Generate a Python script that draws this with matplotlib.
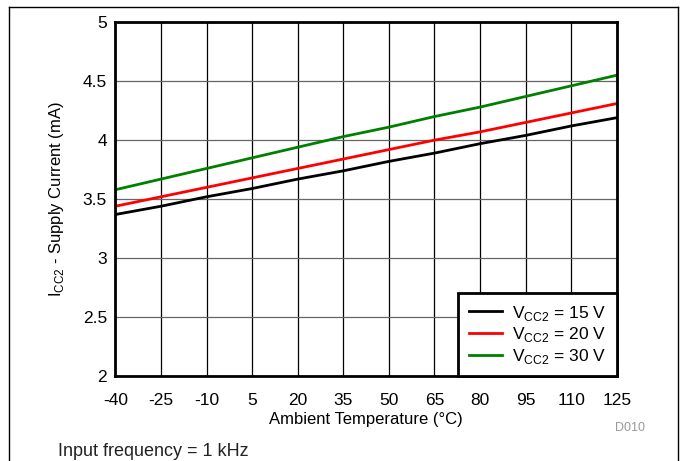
import matplotlib
matplotlib.use("Agg")
import matplotlib.pyplot as plt
from matplotlib.lines import Line2D

plt.rcParams['font.family'] = ['Liberation Sans', 'DejaVu Sans']
plt.rcParams['mathtext.fontset'] = 'custom'
plt.rcParams['mathtext.rm'] = 'Liberation Sans'

# data
temps = [-40, -25, -10, 5, 20, 35, 50, 65, 80, 95, 110, 125]
icc_15v = [3.37, 3.44, 3.52, 3.59, 3.67, 3.74, 3.82, 3.89, 3.97, 4.04, 4.12, 4.19]
icc_20v = [3.44, 3.52, 3.60, 3.68, 3.76, 3.84, 3.92, 4.00, 4.07, 4.15, 4.23, 4.31]
icc_30v = [3.58, 3.67, 3.76, 3.85, 3.94, 4.03, 4.11, 4.20, 4.28, 4.37, 4.46, 4.55]
yticks = [2, 2.5, 3, 3.5, 4, 4.5, 5]

fig = plt.figure(figsize=(6.83, 4.61), dpi=100)
ax = fig.add_axes([0.169, 0.184, 0.734, 0.768])

ax.plot(temps, icc_15v, color='black', lw=2, label=r'V$_{\mathrm{CC2}}$ = 15 V')
ax.plot(temps, icc_20v, color='#ff0000', lw=2, label=r'V$_{\mathrm{CC2}}$ = 20 V')
ax.plot(temps, icc_30v, color='#008000', lw=2, label=r'V$_{\mathrm{CC2}}$ = 30 V')

ax.set_xlim(-40, 125)
ax.set_ylim(2, 5)
ax.set_xticks(temps)
ax.set_yticks(yticks)
ax.set_xticklabels([str(t) for t in temps])
ax.set_yticklabels(['2', '2.5', '3', '3.5', '4', '4.5', '5'])
ax.tick_params(length=0, labelsize=12.5)
ax.tick_params(axis='x', pad=12)
ax.tick_params(axis='y', pad=6)

ax.xaxis.grid(True, color='black', lw=0.9)
ax.yaxis.grid(True, color='#666666', lw=0.9)
ax.set_axisbelow(True)
for s in ax.spines.values():
    s.set_linewidth(2)

ax.set_xlabel('Ambient Temperature (\u00b0C)', fontsize=12, labelpad=3)
ax.set_ylabel(r'I$_{\mathrm{CC2}}$ - Supply Current (mA)', fontsize=12, labelpad=12)

leg = ax.legend(loc='lower right', fontsize=12.5, fancybox=False, framealpha=1,
                edgecolor='black', borderaxespad=0, handlelength=1.9,
                labelspacing=0.15, borderpad=0.6, handletextpad=0.6)
leg.get_frame().set_linewidth(2)

fig.text(0.944, 0.072, 'D010', fontsize=9, color='#999999', ha='right', va='center')
fig.text(0.085, 0.01, 'Input frequency = 1 kHz', fontsize=13, color='#222222')

# page frame lines
fig.add_artist(Line2D([0.013, 0.993], [0.985, 0.985], color='black', lw=1))
fig.add_artist(Line2D([0.013, 0.013], [0, 0.985], color='black', lw=1))
fig.add_artist(Line2D([0.993, 0.993], [0, 0.985], color='black', lw=1))

fig.savefig('out.png', dpi=100)
